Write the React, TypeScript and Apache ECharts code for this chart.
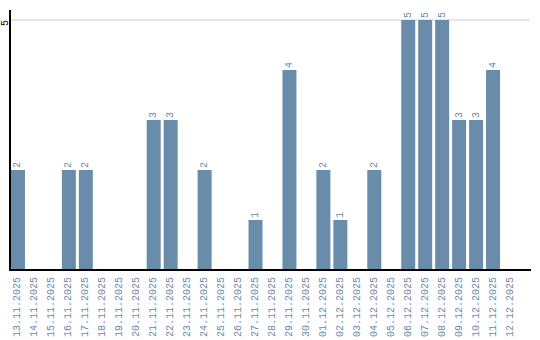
import React, { useEffect, useRef } from "react";
import * as echarts from "echarts";

const categories = [
  "13.11.2025", "14.11.2025", "15.11.2025", "16.11.2025", "17.11.2025",
  "18.11.2025", "19.11.2025", "20.11.2025", "21.11.2025", "22.11.2025",
  "23.11.2025", "24.11.2025", "25.11.2025", "26.11.2025", "27.11.2025",
  "28.11.2025", "29.11.2025", "30.11.2025", "01.12.2025", "02.12.2025",
  "03.12.2025", "04.12.2025", "05.12.2025", "06.12.2025", "07.12.2025",
  "08.12.2025", "09.12.2025", "10.12.2025", "11.12.2025", "12.12.2025",
];

const counts = [
  2, 0, 0, 2, 2, 0, 0, 0, 3, 3,
  0, 2, 0, 0, 1, 0, 4, 0, 2, 1,
  0, 2, 0, 5, 5, 5, 3, 3, 4, 0,
];

const yMax = 5;

const FONT = "Liberation Mono";
const BAR = "#6a8cab";
const LABEL = "#6a8aab";

export default function App() {
  const ref = useRef<HTMLDivElement>(null);
  useEffect(() => {
    if (!ref.current) return;
    document.body.style.margin = "0";
    const chart = echarts.init(ref.current, undefined, { renderer: "svg" });
    chart.setOption({
      animation: false,
      grid: { left: 8.5, top: 20, width: 510, height: 250 },
      xAxis: {
        type: "category",
        data: categories,
        axisLine: { show: false },
        axisTick: { show: false },
        axisLabel: {
          rotate: 90,
          interval: 0,
          margin: 7,
          color: LABEL,
          fontFamily: FONT,
          fontSize: 10,
        },
        splitLine: { show: false },
      },
      yAxis: {
        type: "value",
        min: 0,
        max: yMax,
        interval: yMax,
        axisLine: { show: false },
        axisTick: { show: false },
        axisLabel: {
          rotate: 90,
          margin: 4.5,
          color: "#000",
          fontFamily: FONT,
          fontSize: 10,
          showMinLabel: false,
          showMaxLabel: true,
          align: "right",
          verticalAlign: "middle",
        },
        splitLine: { show: false },
      },
      series: [
        {
          type: "bar",
          data: counts,
          barWidth: 14,
          itemStyle: { color: BAR },
          label: {
            show: true,
            position: "top",
            rotate: 90,
            distance: 2,
            align: "left",
            verticalAlign: "middle",
            color: LABEL,
            fontFamily: FONT,
            fontSize: 10,
            formatter: (p: any) => (p.value ? String(p.value) : ""),
          },
        },
      ],
    });
    const y0 = chart.convertToPixel({ yAxisIndex: 0 }, 0) as number;
    const y5 = chart.convertToPixel({ yAxisIndex: 0 }, yMax) as number;
    const xl = 10;
    const xr = 531;
    chart.setOption({
      graphic: [
        {
          type: "line",
          z: 1,
          shape: { x1: xl, y1: y5, x2: xr - 1, y2: y5 },
          style: { stroke: "#cccccc", lineWidth: 1 },
        },
        {
          type: "line",
          z: 10,
          shape: { x1: xl, y1: 10, x2: xl, y2: y0 },
          style: { stroke: "#000", lineWidth: 2 },
        },
        {
          type: "line",
          z: 10,
          shape: { x1: xl - 1, y1: y0, x2: xr, y2: y0 },
          style: { stroke: "#000", lineWidth: 2 },
        },
      ],
    });
    return () => chart.dispose();
  }, []);
  return <div ref={ref} style={{ width: 540, height: 340 }} />;
}
